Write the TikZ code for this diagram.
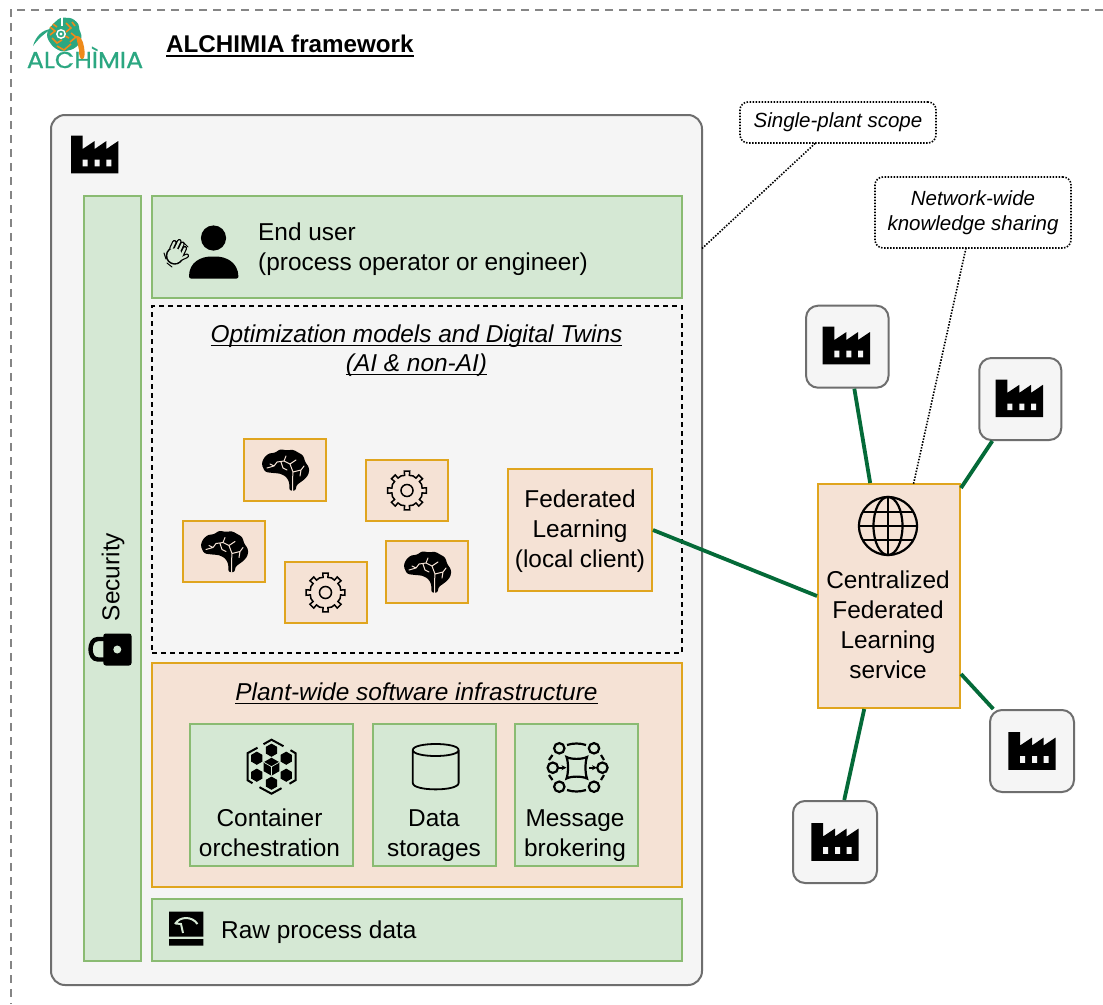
\documentclass[tikz,border=0pt]{standalone}
\usepackage{fontspec}
\usetikzlibrary{arrows.meta}
\setmainfont{Liberation Sans}
\newfontfamily\logofont[FakeBold=0.6]{Poppins}
\definecolor{gfill}{HTML}{D5E8D4}
\definecolor{gline}{HTML}{8ABB72}
\definecolor{ofill}{HTML}{F5E2D5}
\definecolor{oline}{HTML}{E0A51E}
\definecolor{plantfill}{HTML}{F5F5F5}
\definecolor{plantline}{HTML}{6E6E6E}
\definecolor{linkgreen}{HTML}{046A38}
\definecolor{logoteal}{HTML}{2BA781}
\definecolor{logoorange}{HTML}{EE8A1A}
\newcommand{\body}{\fontsize{24.4}{30}\selectfont}
\newcommand{\ulin}[1]{\leavevmode\setbox0\hbox{#1}\rlap{\vrule width\wd0 height-3pt depth 4.3pt}\box0}
\newcommand{\ulbold}[1]{\leavevmode\setbox0\hbox{#1}\rlap{\vrule width\wd0 height-3pt depth 4.8pt}\box0}
\tikzset{
  x=1pt,y=-1pt,
  gbox/.style={draw=gline,fill=gfill,line width=2pt,inner sep=0pt,minimum width=#1},
  obox/.style={draw=oline,fill=ofill,line width=2pt,inner sep=0pt,minimum width=#1},
  sized/.style={minimum height=#1},
  plantbox/.style={draw=plantline,fill=plantfill,line width=2pt,rounded corners=#1,inner sep=0pt},
  callout/.style={draw=black,line width=1.6pt,dash pattern=on 1.5pt off 1.5pt,rounded corners=8pt,fill=white,inner sep=0pt,align=center,font=\fontsize{20.5}{24.5}\selectfont\itshape},
  label/.style={inner sep=0pt,align=center,font=\body},
  link/.style={draw=linkgreen,line width=3.8pt},
  dotline/.style={draw=black,line width=1.6pt,dash pattern=on 1.5pt off 1.5pt},
  factory/.pic={
    \fill[black] (0,0) -- (11.7,0) -- (11.7,13.3) -- (23.7,5.3) -- (23.7,13.3) -- (35.4,5.3) -- (35.4,13.3) -- (47.3,5.3) -- (47.3,37.6) -- (0,37.6) -- cycle;
    \fill[plantfill] (11.7,24) rectangle (16.7,30.7) (23.7,24) rectangle (28.7,30.7) (35.4,24) rectangle (40.4,30.7);
  },
  brain/.pic={
    \fill[black,rounded corners=2.5pt] (-23.5,-6) -- (-21,-12.5) -- (-15.5,-17) -- (-10,-17) -- (-5,-21) -- (2,-19.5) -- (8,-20.5) -- (14,-17) -- (18.5,-14.5) -- (20,-8) -- (24,-3) -- (24,3.5) -- (20.5,8.5) -- (14.5,13) -- (11,15.5) -- (11,20.7) -- (4.3,20.7) -- (4.3,12) -- (1,6.5) -- (-5,3.5) -- (-12,3) -- (-20,2) -- cycle;
    \draw[ofill,line width=1pt,line cap=round] (-18,-2) -- (-11,-4) -- (-8,-8) -- (-1,-9) -- (1,-14)
      (-1,-9) -- (5,-6) -- (8,2) -- (7.5,10) -- (7.5,20.7)
      (5,-6) -- (11,-10) (-11,-4) -- (-15,-6) (8,2) -- (16,0) -- (19,-4) (16,0) -- (15,6) (-4,-8) -- (-2,-2) -- (2,0);
  },
  gear/.pic={
    \draw[black,line width=1.5pt,line join=miter] (-8:19.5) \foreach \a in {0,45,...,315}{ -- (\a-8:19.5) -- (\a+8:19.5) -- (\a+9:15.3) -- (\a+22.5:15.8) -- (\a+36:15.3) -- (\a+37:19.5)} -- cycle;
    \draw[black,line width=1.5pt] (0,0) circle[radius=6];
  }
}
\begin{document}
\begin{tikzpicture}[x=1pt,y=-1pt]
\useasboundingbox (0,0) rectangle (1103,1004);
\fill[white] (0,0) rectangle (1103,1004);
% outer dashed frame
\coordinate (frameTR) at (1103,9.5);
\coordinate (frameTL) at (10.5,9.5);
\coordinate (frameBL) at (10.5,1004);
\draw[color=black!48,line width=2pt,dash pattern=on 8pt off 6pt] (frameTR) -- (frameTL) -- (frameBL);

% logo
\fill[logoteal,rounded corners=3pt] (52,25) -- (60,17.5) -- (72,18) -- (79,24) -- (79,30) -- (82,35) -- (80,43) -- (74,49) -- (62,52) -- (53,47) -- (47,38) -- (47,32) -- cycle;
\fill[logoteal] (33,46) .. controls (36,36) and (42,30) .. (51,29) .. controls (44,34) and (39,38) .. (33,46) -- cycle;
\draw[logoorange,line width=1.6pt] (50,27) -- (55,31) -- (50,35) (53,24) -- (57,27) (52,38) -- (57,43) -- (62,40) (57,46) -- (64,50) -- (71,44) (66,23) -- (71,28) -- (66,32) (72,22) -- (75,26) (71,33) -- (76,37) -- (70,42) (65,36) -- (69,38);
\fill[white] (61,16) rectangle (63,26);
\draw[white,line width=1.4pt] (61,34) circle[radius=4.2];
\fill[white] (61,34) circle[radius=1.6];
\fill[logoorange] (76,36) .. controls (80,35) and (83,40) .. (84,47) .. controls (85,53) and (85,57) .. (83,59) .. controls (80,60) and (79,56) .. (79,50) .. controls (78,45) and (77,41) .. (76,36) -- cycle;
\node[inner sep=0pt,text=logoteal,anchor=base] (logotext) at (85,68) {\scalebox{1.1}[1]{\fontsize{23}{24}\logofont ALCHÌMIA}};

\node[inner sep=0pt,anchor=base west] (title) at (166,52) {\fontsize{24.2}{28}\selectfont\bfseries\ulbold{ALCHIMIA framework}};

% plant
\node[plantbox=14pt,minimum width=651pt,minimum height=870pt] (plant) at (376.5,550) {};
\pic at (71,135.7) {factory};

\node[gbox=57pt,sized=765pt] (security) at (112.5,578.5) {};
\node[label,rotate=90] (securitytext) at (113,577) {Security};
% lock
\draw[black,line width=4.4pt] (105,639) -- (98,639) .. controls (88,639) and (88,659.5) .. (98,659.5) -- (105,659.5);
\fill[black,rounded corners=2.5pt] (103.3,633.5) rectangle (131.5,665.5);
\fill[gfill] (117.3,649.5) circle[radius=4];

% end user
\node[gbox=530pt,sized=102pt] (enduser) at (417,247) {};
\node[inner sep=0pt,anchor=base west,font=\body] (endusertext1) at (258,240) {End user};
\node[inner sep=0pt,anchor=base west,font=\body] (endusertext2) at (258,270) {(process operator or engineer)};
\fill[black] (213.5,238) circle[radius=12.6];
\fill[black,rounded corners=2pt] (189,278.5) .. controls (189,262) and (201,256.5) .. (213.5,256.5) .. controls (226,256.5) and (238,262) .. (238.5,278.5) -- cycle;
% waving hand
\begin{scope}[shift={(176,253)},rotate=-25]
\draw[black,line width=4.6pt,line cap=round] (-6,-2) -- (-6,-9) (-2,-2) -- (-2,-12) (2,-2) -- (2,-11) (6,0) -- (6,-8) (6,4) -- (11,-2);
\fill[black] (0,3) circle[radius=9];
\draw[gfill,line width=2.2pt,line cap=round] (-6,-2) -- (-6,-9) (-2,-2) -- (-2,-12) (2,-2) -- (2,-11) (6,0) -- (6,-8) (6,4) -- (11,-2);
\fill[gfill] (0,3) circle[radius=7.4];
\end{scope}
\draw[black,line width=1pt,line cap=round] (164,253) -- (166,259) (167,263) -- (172,267) (183,242) -- (188,247);

% optimization
\node[draw=black,fill=plantfill,line width=1.6pt,dash pattern=on 5pt off 4pt,inner sep=0pt,minimum width=530pt,minimum height=347pt] (optim) at (417,479.5) {};
\node[inner sep=0pt,anchor=base,font=\body\itshape] (optimtext) at (416.5,342) {\ulin{Optimization models and Digital Twins}};
\node[inner sep=0pt,anchor=base,font=\body\itshape] (optimtext2) at (416.5,371) {\ulin{(AI \& non-AI)}};

\node[obox=82pt,sized=62pt] (b1) at (285,470) {};
\pic at (b1) {brain};
\node[obox=82pt,sized=61pt] (g1) at (407,490.5) {};
\pic at (g1) {gear};
\node[obox=82pt,sized=61pt] (b2) at (224,551.5) {};
\pic at (b2) {brain};
\node[obox=82pt,sized=61pt] (g2) at (325.5,592.5) {};
\pic at (g2) {gear};
\node[obox=82pt,sized=62pt] (b3) at (427,572) {};
\pic at (b3) {brain};
\node[obox=144pt,sized=122pt] (fl) at (580,530) {};
\node[label] (fltext) at (580,531) {Federated\\Learning\\(local client)};

% infrastructure
\node[obox=530pt,sized=224pt] (infra) at (417,775) {};
\node[inner sep=0pt,anchor=base,font=\body\itshape] (infratext) at (416.5,700) {\ulin{Plant-wide software infrastructure}};
\node[gbox=163pt,sized=142pt] (container) at (271.5,795) {};
\node[gbox=123pt,sized=142pt] (datastore) at (434.5,795) {};
\node[gbox=123pt,sized=142pt] (message) at (576.5,795) {};
\node[label] (containertext) at (269.5,833) {Container\\orchestration};
\node[label] (datatext) at (434,836) {Data\\storages};
\node[label] (messagetext) at (575,836) {Message\\brokering};

% container icon
\begin{scope}[shift={(271.5,766.7)}]
\draw[black,line width=2pt] (-8,-22.5) -- (0,-27) -- (12,-20.5) (19,-16.5) -- (24,-13.5) -- (24,13.5) -- (18,17) (10,21.5) -- (0,27) -- (-12,20.5) (-19,16.5) -- (-24,13.5) -- (-24,-13.5) -- (-14,-19);
\foreach \p/\r/\s in {0/0/9,90/16.5/6.6,150/17/6.6,30/17/6.6,210/17/6.6,330/17/6.6,270/16.5/6.6}{
  \fill[black] (\p:\r) ++(90:\s) -- ++(-30:\s) -- ++(-90:\s) -- ++(210:\s) -- ++(150:\s) -- ++(90:\s) -- cycle;
}
\draw[gfill,line width=0.7pt] (0,0) -- (90:9) (0,0) -- (210:9) (0,0) -- (330:9);
\end{scope}
% cylinder
\draw[black,line width=1.8pt,line join=round] (412.8,750) .. controls (412.8,742) and (458.6,742) .. (458.6,750) .. controls (458.6,758) and (412.8,758) .. (412.8,750) -- (412.8,783) .. controls (412.8,791.5) and (458.6,791.5) .. (458.6,783) -- (458.6,750);
% message broker
\begin{scope}[black,line width=2.2pt]
\foreach \cx/\cy in {559.3/748.3,594/748.3,552.8/767.7,602.4/767.7,559.3/786.7,594/786.7}{\draw (\cx,\cy) circle[radius=5.2];}
\draw (566.5,757) .. controls (571,759.5) and (582,759.5) .. (587,757) .. controls (585,762) and (585,773) .. (587,778.5) .. controls (582,776) and (571,776) .. (566.5,778.5) .. controls (568.5,773) and (568.5,762) .. (566.5,757) -- cycle;
\draw (567,745) .. controls (573,743) and (580,743) .. (586,745);
\draw (567,790) .. controls (573,792) and (580,792) .. (586,790);
\draw (552.5,755) -- (549,760) (601,755) -- (604,760) (552.5,780) -- (549,775) (601,780) -- (604,775);
\draw[line width=1.6pt,-{Stealth[length=5pt,width=5pt]}] (558,767.7) -- (566.5,767.7);
\draw[line width=1.6pt,-{Stealth[length=5pt,width=5pt]}] (589,767.7) -- (597,767.7);
\end{scope}

% raw data
\node[gbox=530pt,sized=62pt] (raw) at (417,930) {};
\fill[black] (169,911.7) rectangle (203.4,936.7) (169,939) rectangle (203.4,945.7);
\draw[gfill,line width=2pt] (175,924) .. controls (180,916) and (192,916) .. (197.5,924) (176,923.5) -- (181,924) -- (183,933);
\node[inner sep=0pt,anchor=base west,font=\body] (rawtext) at (221,938) {Raw process data};

% central service
\node[obox=142pt,sized=224pt] (central) at (889,596) {};
\begin{scope}[shift={(888,526)},black,line width=2.2pt]
\draw (0,0) circle[radius=29];
\draw (0,0) ellipse[x radius=14.5,y radius=29];
\draw (0,-29) -- (0,29) (-29,0) -- (29,0) (-25,-14) -- (25,-14) (-25,14) -- (25,14);
\end{scope}
\node[label] (centraltext) at (888,625) {Centralized\\Federated\\Learning\\service};

% other plants
\node[plantbox=12pt,minimum width=82.5pt,minimum height=82pt] (p1) at (847.3,346.7) {};
\pic at (822.7,326.7) {factory};
\node[plantbox=12pt,minimum width=82pt,minimum height=82pt] (p2) at (1020.3,399) {};
\pic at (995.7,379.5) {factory};
\node[plantbox=12pt,minimum width=84pt,minimum height=82pt] (p3) at (1032,751) {};
\pic at (1008.3,732.2) {factory};
\node[plantbox=12pt,minimum width=84pt,minimum height=82pt] (p4) at (835,842) {};
\pic at (811.3,823.2) {factory};

% links
\draw[link] (p1) -- (central);
\draw[link] (p2) -- (central);
\draw[link] (p3) -- (central);
\draw[link] (p4) -- (central);
\draw[link] (fl.east) -- (central.west);

% callouts
\node[callout,minimum width=196pt,minimum height=41pt] (single) at (838,122.5) {Single-plant scope};
\node[callout,minimum width=196pt,minimum height=71pt] (network) at (973,212.5) {Network-wide\\knowledge sharing};
\coordinate (plantpoint) at (702,248.5);
\coordinate (singlefoot) at (815,143.5);
\coordinate (networkfoot) at (966,248);
\coordinate (centralfoot) at (913.5,484);
\draw[dotline] (plantpoint) -- (singlefoot);
\draw[dotline] (networkfoot) -- (centralfoot);
\end{tikzpicture}
\end{document}
